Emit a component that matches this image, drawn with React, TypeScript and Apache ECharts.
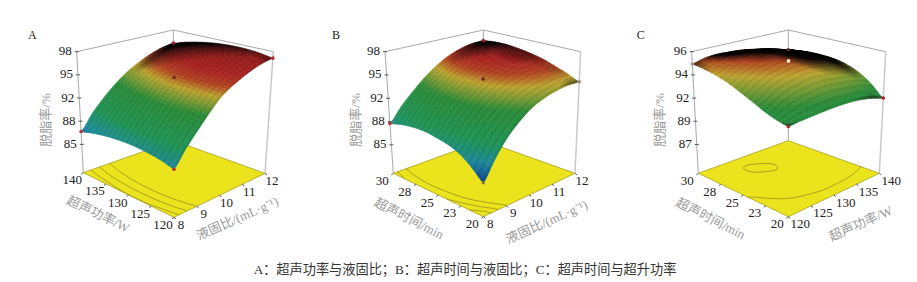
import React, { useEffect, useRef } from "react";
import * as echarts from "echarts";

// surface values: rows run along the second floor axis (front → left), columns along the first (front → right)
const gridA = [
  [87.2, 89.2, 91.0, 92.8, 94.4, 95.4, 96.2, 96.8, 97.1],
  [87.57, 89.57, 91.36, 93.12, 94.68, 95.68, 96.48, 97.08, 97.38],
  [87.81, 89.81, 91.59, 93.31, 94.84, 95.84, 96.64, 97.24, 97.54],
  [87.94, 89.94, 91.7, 93.39, 94.88, 95.88, 96.68, 97.28, 97.58],
  [87.95, 89.95, 91.7, 93.35, 94.8, 95.8, 96.6, 97.2, 97.5],
  [87.84, 89.84, 91.58, 93.19, 94.6, 95.6, 96.4, 97.0, 97.3],
  [87.61, 89.61, 91.34, 92.91, 94.29, 95.29, 96.09, 96.69, 96.99],
  [87.27, 89.27, 90.98, 92.52, 93.86, 94.86, 95.66, 96.26, 96.56],
  [86.8, 88.8, 90.5, 92.0, 93.3, 94.3, 95.1, 95.7, 96.0],
];
const gridB = [
  [85.4, 87.8, 89.9, 91.4, 92.6, 93.3, 93.7, 93.9, 93.8],
  [86.7, 88.86, 90.75, 92.15, 93.28, 93.96, 94.37, 94.59, 94.5],
  [87.8, 89.76, 91.47, 92.78, 93.85, 94.52, 94.93, 95.15, 95.1],
  [88.4, 90.3, 91.96, 93.26, 94.34, 95.05, 95.49, 95.73, 95.7],
  [88.7, 90.55, 92.18, 93.5, 94.6, 95.34, 95.83, 96.09, 96.1],
  [88.9, 90.7, 92.29, 93.63, 94.76, 95.54, 96.06, 96.36, 96.4],
  [88.8, 90.61, 92.21, 93.62, 94.8, 95.66, 96.24, 96.57, 96.6],
  [88.5, 90.3, 91.9, 93.34, 94.58, 95.5, 96.13, 96.5, 96.6],
  [88.0, 89.8, 91.4, 92.9, 94.2, 95.2, 95.9, 96.3, 96.4],
];
const gridC = [
  [91.45, 91.6, 91.72, 91.85, 91.95, 92.0, 91.97, 91.8, 91.5],
  [91.7, 92.15, 92.55, 92.8, 93.0, 93.0, 92.95, 92.8, 92.5],
  [92.1, 92.75, 93.3, 93.6, 93.85, 93.85, 93.75, 93.6, 93.3],
  [92.65, 93.35, 93.95, 94.3, 94.55, 94.5, 94.3, 94.1, 93.8],
  [93.2, 93.9, 94.5, 94.82, 95.05, 94.95, 94.7, 94.45, 94.1],
  [93.75, 94.4, 94.9, 95.17, 95.33, 95.22, 94.95, 94.62, 94.2],
  [94.2, 94.75, 95.15, 95.4, 95.4, 95.3, 95.0, 94.65, 94.2],
  [94.55, 95.0, 95.25, 95.35, 95.3, 95.15, 94.85, 94.5, 94.1],
  [94.8, 95.1, 95.2, 95.15, 95.05, 94.85, 94.5, 94.2, 93.9],
];

const zTicksAB = [85, 88.25, 91.5, 94.75, 98];
const zLabelsAB = ["85", "88", "92", "95", "98"];
const zTicksC = [87, 89.25, 91.5, 93.75, 96];
const zLabelsC = ["87", "89", "92", "94", "96"];
const powerLabels = ["120", "125", "130", "135", "140"];
const ratioLabels = ["8", "9", "10", "11", "12"];
const timeLabels = ["20", "23", "25", "28", "30"];
const contourA = [88, 89.5, 91];
const contourB = [87, 88.5, 90];
const contourC = [95.36, 93];
const caption = "A：超声功率与液固比；B：超声时间与液固比；C：超声时间与超升功率";

type P = [number, number];
const z = (ox: number, zx: number, zy: number): P => [ox + zx / 3, 10 + zy / 3];

const panels = [
  {
    id: "A", ox: 0, grid: gridA, z0: 81.03, z1: 98, zTicks: zTicksAB, zLabels: zLabelsAB,
    rightLabels: ratioLabels, leftLabels: powerLabels, contours: contourA,
    rightTitle: "液固比/(mL·g⁻¹)", leftTitle: "超声功率/W",
    letter: [97, 75], zTitle: [135, 330], lt: [295, 612, 26], rt: [712, 625, 24],
    front: [522, 622], right: [795, 490], left: [250, 488], back: [522, 392],
    tFront: [522, 225], tRight: [820, 125], tLeft: [230, 125], tBack: [520, 60],
    marks: ["#b5303a", "#b5303a", "#b5303a", "#a02030", "#7a2a22"],
  },
  {
    id: "B", ox: 310, grid: gridB, z0: 81.03, z1: 98, zTicks: zTicksAB, zLabels: zLabelsAB,
    rightLabels: ratioLabels, leftLabels: timeLabels, contours: contourB,
    rightTitle: "液固比/(mL·g⁻¹)", leftTitle: "超声时间/min",
    letter: [78, 75], zTitle: [135, 330], lt: [297, 625, 27], rt: [710, 635, 24],
    front: [520, 620], right: [795, 490], left: [250, 490], back: [520, 392],
    tFront: [520, 225], tRight: [812, 125], tLeft: [225, 125], tBack: [520, 60],
    marks: ["#8a7a3a", "#999088", "#b5303a", "#a02030", "#7a2a22"],
  },
  {
    id: "C", ox: 620, grid: gridC, z0: 84.2, z1: 96, zTicks: zTicksC, zLabels: zLabelsC,
    rightLabels: powerLabels, leftLabels: timeLabels, contours: contourC,
    rightTitle: "超声功率/W", leftTitle: "超声时间/min",
    letter: [62, 75], zTitle: [118, 330], lt: [272, 625, 27], rt: [722, 640, 24],
    front: [505, 620], right: [778, 490], left: [235, 490], back: [505, 392],
    tFront: [505, 180], tRight: [797, 125], tLeft: [215, 125], tBack: [505, 60],
    marks: ["#a03030", "#c02020", "#999999", "#4a2a20", "#f0e8e0"],
  },
];

const colorStops: [number, number[]][] = [
  [85, [12, 50, 150]],
  [87.3, [28, 140, 160]],
  [89.3, [30, 150, 85]],
  [92.3, [40, 140, 55]],
  [93.3, [120, 155, 50]],
  [94.2, [190, 165, 45]],
  [95.1, [180, 65, 30]],
  [96, [170, 32, 30]],
  [98, [135, 22, 22]],
];

function colorOf(v: number, shade: number, stripe: number) {
  let c = colorStops[colorStops.length - 1][1];
  if (v <= colorStops[0][0]) c = colorStops[0][1];
  else
    for (let i = 0; i < colorStops.length - 1; i++) {
      const a = colorStops[i], b = colorStops[i + 1];
      if (v >= a[0] && v <= b[0]) {
        const t = (v - a[0]) / (b[0] - a[0]);
        c = a[1].map((x, n) => x + (b[1][n] - x) * t);
        break;
      }
    }
  const s = shade * stripe;
  return `rgb(${c.map((x) => Math.round(x * s)).join(",")})`;
}

function cr(a: number, b: number, c: number, d: number, t: number) {
  return 0.5 * (2 * b + (c - a) * t + (2 * a - 5 * b + 4 * c - d) * t * t + (3 * b - a - 3 * c + d) * t * t * t);
}
function sample(grid: number[][], r: number, c: number) {
  const n = grid.length - 1;
  r = Math.max(0, Math.min(n, r));
  c = Math.max(0, Math.min(n, c));
  const ri = Math.min(Math.floor(r), n - 1), ci = Math.min(Math.floor(c), n - 1);
  const g = (a: number, b: number) => grid[Math.max(0, Math.min(n, a))][Math.max(0, Math.min(n, b))];
  const row = (a: number) => cr(g(a, ci - 1), g(a, ci), g(a, ci + 1), g(a, ci + 2), c - ci);
  return cr(row(ri - 1), row(ri), row(ri + 1), row(ri + 2), r - ri);
}

function projector(p: any) {
  const c = (k: string) => z(p.ox, p[k][0], p[k][1]);
  const F = c("front"), R = c("right"), L = c("left"), B = c("back");
  const TF = c("tFront"), TR = c("tRight"), TL = c("tLeft"), TB = c("tBack");
  const bl = (a: P, b: P, d: P, e: P, u: number, v: number): P => [
    (1 - u) * (1 - v) * a[0] + u * (1 - v) * b[0] + (1 - u) * v * d[0] + u * v * e[0],
    (1 - u) * (1 - v) * a[1] + u * (1 - v) * b[1] + (1 - u) * v * d[1] + u * v * e[1],
  ];
  return (u: number, v: number, val: number): P => {
    const f = (val - p.z0) / (p.z1 - p.z0);
    const a = bl(F, R, L, B, u, v), b = bl(TF, TR, TL, TB, u, v);
    return [a[0] + (b[0] - a[0]) * f, a[1] + (b[1] - a[1]) * f];
  };
}

const quadArea = (q: P[]) => {
  let s = 0;
  for (let i = 0; i < 4; i++) {
    const a = q[i], b = q[(i + 1) % 4];
    s += a[0] * b[1] - b[0] * a[1];
  }
  return s / 2;
};

const SUB = 5;

function surfaceSeries(p: any) {
  const proj = projector(p);
  const N = p.grid.length - 1;
  const cells: number[][] = [];
  for (let k = N - 1; k >= 0; k--) for (let i = N - 1; i >= 0; i--) cells.push([i, k, p.grid[k][i]]);
  return {
    type: "custom", coordinateSystem: "none", silent: true, z: 2, clip: false, data: cells,
    renderItem: (_: any, api: any) => {
      const i = api.value(0), k = api.value(1);
      const children: any[] = [];
      const pt = (c: number, r: number) => proj(c / N, r / N, sample(p.grid, r, c));
      const fl = (c: number, r: number) => proj(c / N, r / N, p.z0);
      for (let b = SUB - 1; b >= 0; b--)
        for (let a = SUB - 1; a >= 0; a--) {
          const c0 = i + a / SUB, c1 = i + (a + 1) / SUB, r0 = k + b / SUB, r1 = k + (b + 1) / SUB;
          const cm = (c0 + c1) / 2, rm = (r0 + r1) / 2;
          const q = [pt(c0, r0), pt(c1, r0), pt(c1, r1), pt(c0, r1)];
          // brightness from how much screen area a wide patch around this point covers
          const w = 0.6;
          const wide = [pt(cm - w, rm - w), pt(cm + w, rm - w), pt(cm + w, rm + w), pt(cm - w, rm + w)];
          const wideF = [fl(cm - w, rm - w), fl(cm + w, rm - w), fl(cm + w, rm + w), fl(cm - w, rm + w)];
          const ratio = Math.abs(quadArea(wide)) / Math.abs(quadArea(wideF));
          const shade = Math.max(0.03, Math.min(1, (ratio - 0.72) / 0.6));
          const v = sample(p.grid, rm, cm);
          const stripe = (k * SUB + b) % 2 ? 1 : 0.93;
          const col = colorOf(v, shade, stripe);
          children.push({
            type: "polygon", silent: true,
            shape: { points: q },
            style: { fill: col, stroke: col, lineWidth: 0.5 },
          });
        }
      return { type: "group", children };
    },
  };
}

function contourSeries(p: any) {
  const proj = projector(p);
  const N = p.grid.length - 1;
  const D = 4;
  return {
    type: "custom", coordinateSystem: "none", silent: true, z: 1, clip: false,
    data: p.contours.map((l: number) => [l]),
    renderItem: (_: any, api: any) => {
      const level = api.value(0);
      const children: any[] = [];
      const M = N * D;
      const val = (a: number, b: number) => sample(p.grid, b / D, a / D);
      const fp = (a: number, b: number) => proj(a / M, b / M, p.z0);
      for (let a = 0; a < M; a++)
        for (let b = 0; b < M; b++) {
          const c = [[a, b], [a + 1, b], [a + 1, b + 1], [a, b + 1]];
          const vs = c.map(([x, y]) => val(x, y));
          const pts: P[] = [];
          for (let e = 0; e < 4; e++) {
            const v0 = vs[e], v1 = vs[(e + 1) % 4];
            if (v0 < level !== v1 < level) {
              const t = (level - v0) / (v1 - v0);
              const c0 = c[e], c1 = c[(e + 1) % 4];
              pts.push(fp(c0[0] + (c1[0] - c0[0]) * t, c0[1] + (c1[1] - c0[1]) * t));
            }
          }
          if (pts.length >= 2)
            children.push({
              type: "line", silent: true,
              shape: { x1: pts[0][0], y1: pts[0][1], x2: pts[1][0], y2: pts[1][1] },
              style: { stroke: "#a8a020", lineWidth: 1 },
            });
        }
      return { type: "group", children };
    },
  };
}

function markSeries(p: any) {
  const proj = projector(p);
  const N = p.grid.length - 1;
  const corners = [
    [0, 0, p.grid[0][0]],
    [1, 0, p.grid[0][N]],
    [0, 1, p.grid[N][0]],
    [1, 1, p.grid[N][N]],
    [0.5, 0.5, p.grid[N / 2][N / 2]],
  ];
  return {
    type: "custom", coordinateSystem: "none", silent: true, z: 3, clip: false, data: corners,
    renderItem: (params: any, api: any) => {
      const [x, y] = proj(api.value(0), api.value(1), api.value(2));
      return {
        type: "circle", silent: true,
        shape: { cx: x, cy: y, r: 1.8 },
        style: { fill: p.marks[params.dataIndex] },
      };
    },
  };
}

const serif = '"Liberation Serif", "Noto Sans CJK SC", serif';

function frameGraphics(p: any) {
  const proj = projector(p);
  const g: any[] = [];
  const top = p.z1, bot = p.z0;
  const line = (a: P, b: P, stroke = "#a8a8a8", w = 1) =>
    g.push({ type: "line", z: 1, silent: true, shape: { x1: a[0], y1: a[1], x2: b[0], y2: b[1] }, style: { stroke, lineWidth: w } });
  const text = (t: string, x: number, y: number, font: string, fill: string, align = "center", rotation = 0) =>
    g.push({ type: "text", z: 5, silent: true, x, y, rotation, style: { text: t, font, fill, textAlign: align, textVerticalAlign: "middle" } });

  g.push({
    type: "polygon", z: 0, silent: true,
    shape: { points: [proj(0, 0, bot), proj(1, 0, bot), proj(1, 1, bot), proj(0, 1, bot)] },
    style: { fill: "#ebe31c", stroke: "#b8b030", lineWidth: 1 },
  });
  line(proj(0, 1, bot), proj(0, 1, top));
  line(proj(1, 1, bot), proj(1, 1, top));
  line(proj(1, 0, bot), proj(1, 0, top), "#c8c8c8", 1.5);
  line(proj(0, 1, top), proj(1, 1, top));
  line(proj(1, 1, top), proj(1, 0, top));

  p.zTicks.forEach((t: number, i: number) => {
    const a = proj(0, 1, t);
    line([a[0] - 2, a[1]], [a[0] + 2, a[1]], "#555");
    text(p.zLabels[i], a[0] - 5, a[1] - 1, `13px ${serif}`, "#222", "right");
  });
  p.rightLabels.forEach((l: string, i: number) => {
    const a = proj(i / 4, 0, bot);
    line(a, [a[0] + 2, a[1] + 1.5], "#555");
    text(l, a[0] + (l.length > 2 ? 12 : 7), a[1] + 7, `13px ${serif}`, "#222");
  });
  p.leftLabels.forEach((l: string, i: number) => {
    const a = proj(0, i / 4, bot);
    line(a, [a[0] - 2, a[1] + 1.5], "#555");
    text(l, a[0] - 11, a[1] + 7, `13px ${serif}`, "#222");
  });
  const o = p.ox;
  const titleColor = "#9a9a9a";
  text(p.id, o + p.letter[0] / 3, 10 + p.letter[1] / 3, `12px ${serif}`, "#222");
  text("脱脂率/%", o + p.zTitle[0] / 3, 10 + p.zTitle[1] / 3, `13px ${serif}`, titleColor, "center", Math.PI / 2);
  text(p.leftTitle, o + p.lt[0] / 3, 10 + p.lt[1] / 3, `13px ${serif}`, titleColor, "center", (-p.lt[2] * Math.PI) / 180);
  text(p.rightTitle, o + p.rt[0] / 3, 10 + p.rt[1] / 3, `13px ${serif}`, titleColor, "center", (p.rt[2] * Math.PI) / 180);
  return g;
}

export default function App() {
  const ref = useRef<HTMLDivElement>(null);
  useEffect(() => {
    document.body.style.margin = "0";
    document.body.style.background = "#fff";
    const chart = echarts.init(ref.current!, null, { renderer: "svg" });
    const elements: any[] = [];
    panels.forEach((p) => elements.push(...frameGraphics(p)));
    elements.push({
      type: "text", z: 5, silent: true, x: 465, y: 269,
      style: { text: caption, font: `13.2px ${serif}`, fill: "#333", textAlign: "center", textVerticalAlign: "middle" },
    });
    chart.setOption({
      animation: false,
      backgroundColor: "#ffffff",
      graphic: { elements },
      series: panels.flatMap((p) => [contourSeries(p), surfaceSeries(p), markSeries(p)]),
    });
    return () => chart.dispose();
  }, []);
  return <div ref={ref} style={{ width: 917, height: 282 }} />;
}
